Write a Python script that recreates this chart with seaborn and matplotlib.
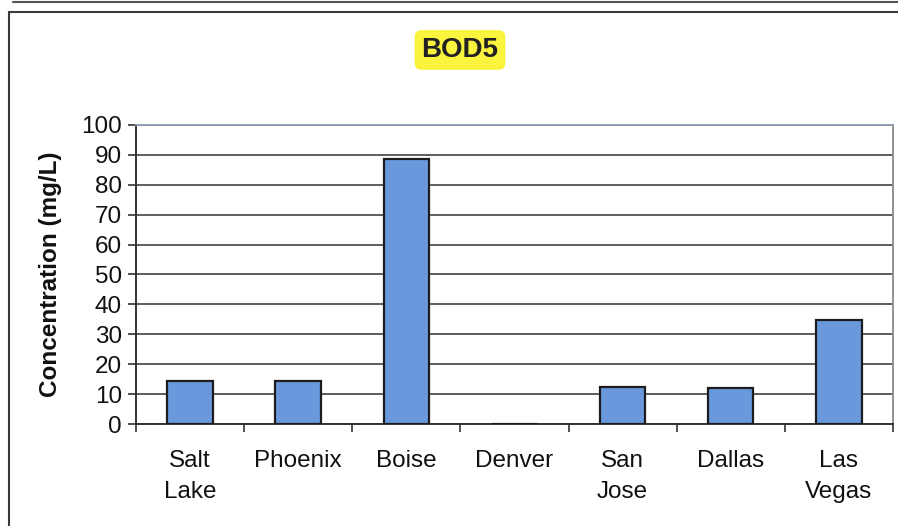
import matplotlib
matplotlib.use("Agg")
import matplotlib.pyplot as plt
from matplotlib.lines import Line2D
from matplotlib.ticker import FixedLocator, NullFormatter
import seaborn as sns
import pandas as pd

# BOD5 concentrations by city (mg/L)
cities = ["Salt\nLake", "Phoenix", "Boise", "Denver", "San\nJose", "Dallas", "Las\nVegas"]
bod5 = [14.3, 14.3, 88.6, 0.0, 12.3, 11.9, 34.9]
y_ticks = [0, 10, 20, 30, 40, 50, 60, 70, 80, 90, 100]

df = pd.DataFrame({"city": cities, "bod5": bod5})

sns.set_theme(style="white")
plt.rcParams["font.family"] = ["Liberation Sans", "DejaVu Sans"]

fig = plt.figure(figsize=(8.98, 5.26), dpi=100)
ax = fig.add_axes([0.1514, 0.1939, 0.8430, 0.5685])

sns.barplot(data=df, x="city", y="bod5", order=cities, color="#6a98dc",
            saturation=1, width=0.42, edgecolor="#1c1c1c", linewidth=1.6,
            ax=ax, zorder=3)

ax.set_xlim(-0.5, len(cities) - 0.5)
ax.set_ylim(0, 100)

# horizontal gridlines
ax.set_yticks(y_ticks)
ax.yaxis.grid(True, color="#505050", linewidth=1.3, zorder=0)
ax.xaxis.grid(False)
ax.tick_params(axis="y", which="major", direction="out", length=6, width=1.2,
               color="#333333", labelsize=17.5, pad=4, left=True, labelcolor="#111111")

# tick marks between categories, labels at category centres
ax.xaxis.set_major_locator(FixedLocator([i - 0.5 for i in range(len(cities) + 1)]))
ax.xaxis.set_major_formatter(NullFormatter())
ax.xaxis.set_minor_locator(FixedLocator(list(range(len(cities)))))
ax.set_xticklabels(cities, minor=True)
ax.tick_params(axis="x", which="major", direction="out", length=6, width=1.2,
               color="#333333", bottom=True)
ax.tick_params(axis="x", which="minor", length=0, labelsize=17.5, pad=19,
               labelcolor="#111111")
for lbl in ax.get_xticklabels(minor=True):
    lbl.set_linespacing(1.5)

ax.set_xlabel("")
ax.set_ylabel("Concentration (mg/L)", fontsize=17.5, fontweight="bold",
              color="#111111", labelpad=14)

for side in ("left", "bottom"):
    ax.spines[side].set_color("#333333")
    ax.spines[side].set_linewidth(1.4)
ax.spines["top"].set_color("#8f9db3")
ax.spines["top"].set_linewidth(1.3)
ax.spines["right"].set_color("#8a8a8a")
ax.spines["right"].set_linewidth(1.3)

# title with highlighter
fig.text(460 / 898, 1 - 50 / 526, "BOD5", ha="center", va="center",
         fontsize=20, fontweight="bold", color="#222222",
         bbox=dict(boxstyle="round,pad=0.22", facecolor="#fbf32a",
                   edgecolor="#fbf32a", alpha=0.9))

# surrounding page frame lines
fig.add_artist(Line2D([9 / 898, 9 / 898], [0, 1 - 12 / 526],
                      transform=fig.transFigure, color="#3a3a3a", linewidth=1.5))
fig.add_artist(Line2D([9 / 898, 1], [1 - 12 / 526, 1 - 12 / 526],
                      transform=fig.transFigure, color="#3a3a3a", linewidth=1.5))
fig.add_artist(Line2D([13 / 898, 1], [1 - 1.5 / 526, 1 - 1.5 / 526],
                      transform=fig.transFigure, color="#555555", linewidth=1.5))

fig.savefig("out.png", dpi=100)
